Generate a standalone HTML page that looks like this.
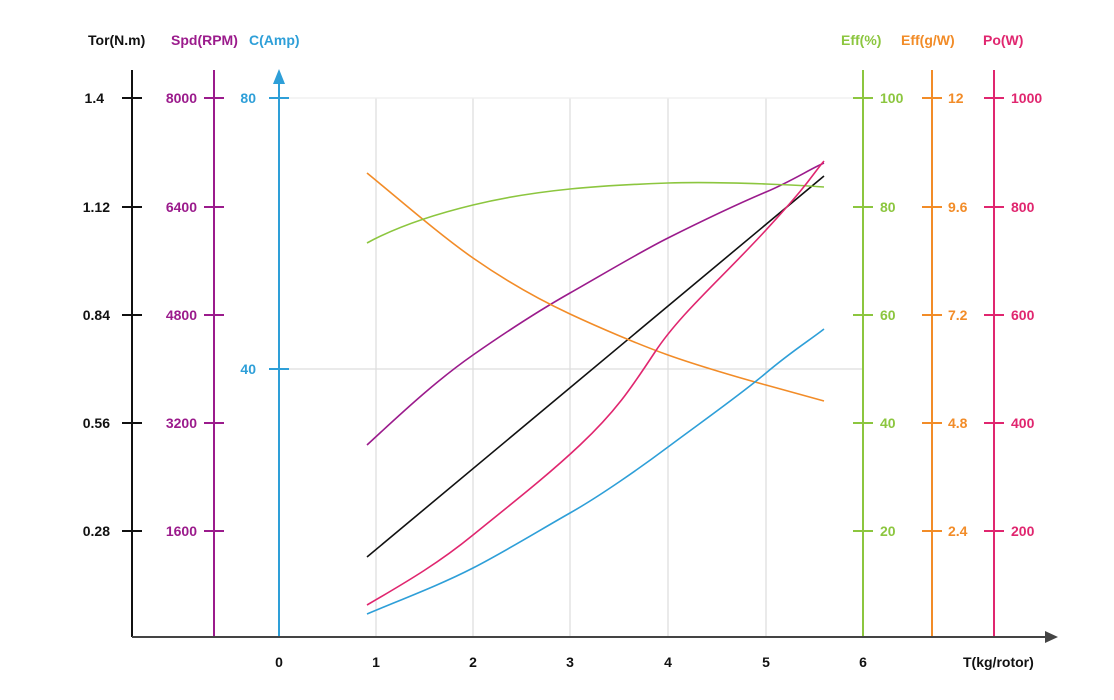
<!DOCTYPE html>
<html><head><meta charset="utf-8"><style>body{margin:0;background:#fff}svg{display:block}text{font-family:"Liberation Sans",sans-serif;font-size:14px;font-weight:bold}</style></head><body>
<svg width="1114" height="700" viewBox="0 0 1114 700">
<g stroke="#ddd" stroke-width="1.2">
<line x1="376" y1="98" x2="376" y2="637"/><line x1="473" y1="98" x2="473" y2="637"/><line x1="570" y1="98" x2="570" y2="637"/><line x1="668" y1="98" x2="668" y2="637"/><line x1="766" y1="98" x2="766" y2="637"/>
<line x1="279" y1="98" x2="863" y2="98" stroke="#eee"/><line x1="279" y1="369" x2="863" y2="369"/>
</g>
<g stroke-width="2">
<line x1="132" y1="70" x2="132" y2="637" stroke="#111"/>
<line x1="214" y1="70" x2="214" y2="637" stroke="#9b1b8c"/>
<line x1="279" y1="80" x2="279" y2="637" stroke="#2e9fd8"/>
<line x1="863" y1="70" x2="863" y2="637" stroke="#8cc63f"/>
<line x1="932" y1="70" x2="932" y2="637" stroke="#f28c28"/>
<line x1="994" y1="70" x2="994" y2="637" stroke="#e0266f"/>
<line x1="132" y1="637" x2="1048" y2="637" stroke="#444"/>
</g>
<polygon points="279,69 273,84 285,84" fill="#2e9fd8"/>
<polygon points="1058,637 1045,631 1045,643" fill="#444"/>
<g stroke-width="2">
<g stroke="#111"><line x1="122" y1="98" x2="142" y2="98"/><line x1="122" y1="207" x2="142" y2="207"/><line x1="122" y1="315" x2="142" y2="315"/><line x1="122" y1="423" x2="142" y2="423"/><line x1="122" y1="531" x2="142" y2="531"/></g>
<g stroke="#9b1b8c"><line x1="204" y1="98" x2="224" y2="98"/><line x1="204" y1="207" x2="224" y2="207"/><line x1="204" y1="315" x2="224" y2="315"/><line x1="204" y1="423" x2="224" y2="423"/><line x1="204" y1="531" x2="224" y2="531"/></g>
<g stroke="#2e9fd8"><line x1="269" y1="98" x2="289" y2="98"/><line x1="269" y1="369" x2="289" y2="369"/></g>
<g stroke="#8cc63f"><line x1="853" y1="98" x2="873" y2="98"/><line x1="853" y1="207" x2="873" y2="207"/><line x1="853" y1="315" x2="873" y2="315"/><line x1="853" y1="423" x2="873" y2="423"/><line x1="853" y1="531" x2="873" y2="531"/></g>
<g stroke="#f28c28"><line x1="922" y1="98" x2="942" y2="98"/><line x1="922" y1="207" x2="942" y2="207"/><line x1="922" y1="315" x2="942" y2="315"/><line x1="922" y1="423" x2="942" y2="423"/><line x1="922" y1="531" x2="942" y2="531"/></g>
<g stroke="#e0266f"><line x1="984" y1="98" x2="1004" y2="98"/><line x1="984" y1="207" x2="1004" y2="207"/><line x1="984" y1="315" x2="1004" y2="315"/><line x1="984" y1="423" x2="1004" y2="423"/><line x1="984" y1="531" x2="1004" y2="531"/></g>
</g>
<g>
<text x="88" y="45" fill="#111">Tor(N.m)</text>
<text x="171" y="45" fill="#9b1b8c">Spd(RPM)</text>
<text x="249" y="45" fill="#2e9fd8">C(Amp)</text>
<text x="841" y="45" fill="#8cc63f">Eff(%)</text>
<text x="901" y="45" fill="#f28c28">Eff(g/W)</text>
<text x="983" y="45" fill="#e0266f">Po(W)</text>
<g fill="#111" text-anchor="end"><text x="104" y="103">1.4</text><text x="110" y="212">1.12</text><text x="110" y="320">0.84</text><text x="110" y="428">0.56</text><text x="110" y="536">0.28</text></g>
<g fill="#9b1b8c" text-anchor="end"><text x="197" y="103">8000</text><text x="197" y="212">6400</text><text x="197" y="320">4800</text><text x="197" y="428">3200</text><text x="197" y="536">1600</text></g>
<g fill="#2e9fd8" text-anchor="end"><text x="256" y="103">80</text><text x="256" y="374">40</text></g>
<g fill="#8cc63f"><text x="880" y="103">100</text><text x="880" y="212">80</text><text x="880" y="320">60</text><text x="880" y="428">40</text><text x="880" y="536">20</text></g>
<g fill="#f28c28"><text x="948" y="103">12</text><text x="948" y="212">9.6</text><text x="948" y="320">7.2</text><text x="948" y="428">4.8</text><text x="948" y="536">2.4</text></g>
<g fill="#e0266f"><text x="1011" y="103">1000</text><text x="1011" y="212">800</text><text x="1011" y="320">600</text><text x="1011" y="428">400</text><text x="1011" y="536">200</text></g>
<g fill="#111" text-anchor="middle"><text x="279" y="667">0</text><text x="376" y="667">1</text><text x="473" y="667">2</text><text x="570" y="667">3</text><text x="668" y="667">4</text><text x="766" y="667">5</text><text x="863" y="667">6</text></g>
<text x="963" y="667" fill="#111">T(kg/rotor)</text>
</g>
<g fill="none" stroke-width="1.6">
<line x1="367" y1="557" x2="824" y2="176" stroke="#111"/>
<path d="M367,445 C410,405 440,378 473,355 S540,310 570,293 S640,252 668,238 S740,203 766,192 S810,169 824,163" stroke="#9b1b8c"/>
<path d="M367,173 C400,200 440,235 473,258 S540,300 570,314 S640,345 668,355 S740,378 766,385 S810,397 824,401" stroke="#f28c28"/>
<path d="M367,243 C400,225 440,213 473,205 S540,192 570,189 S640,184 668,183 S740,183 766,184 S810,186 824,187" stroke="#8cc63f"/>
<path d="M367,605 C410,580 440,562 473,535 S545,478 580,445 S630,390 655,352 S720,280 766,230 S812,175 824,161" stroke="#e0266f"/>
<path d="M367,614 C400,600 440,585 473,568 S540,530 570,513 S640,468 668,447 S740,395 766,373 S810,340 824,329" stroke="#2e9fd8"/>
</g>
</svg>
</body></html>
